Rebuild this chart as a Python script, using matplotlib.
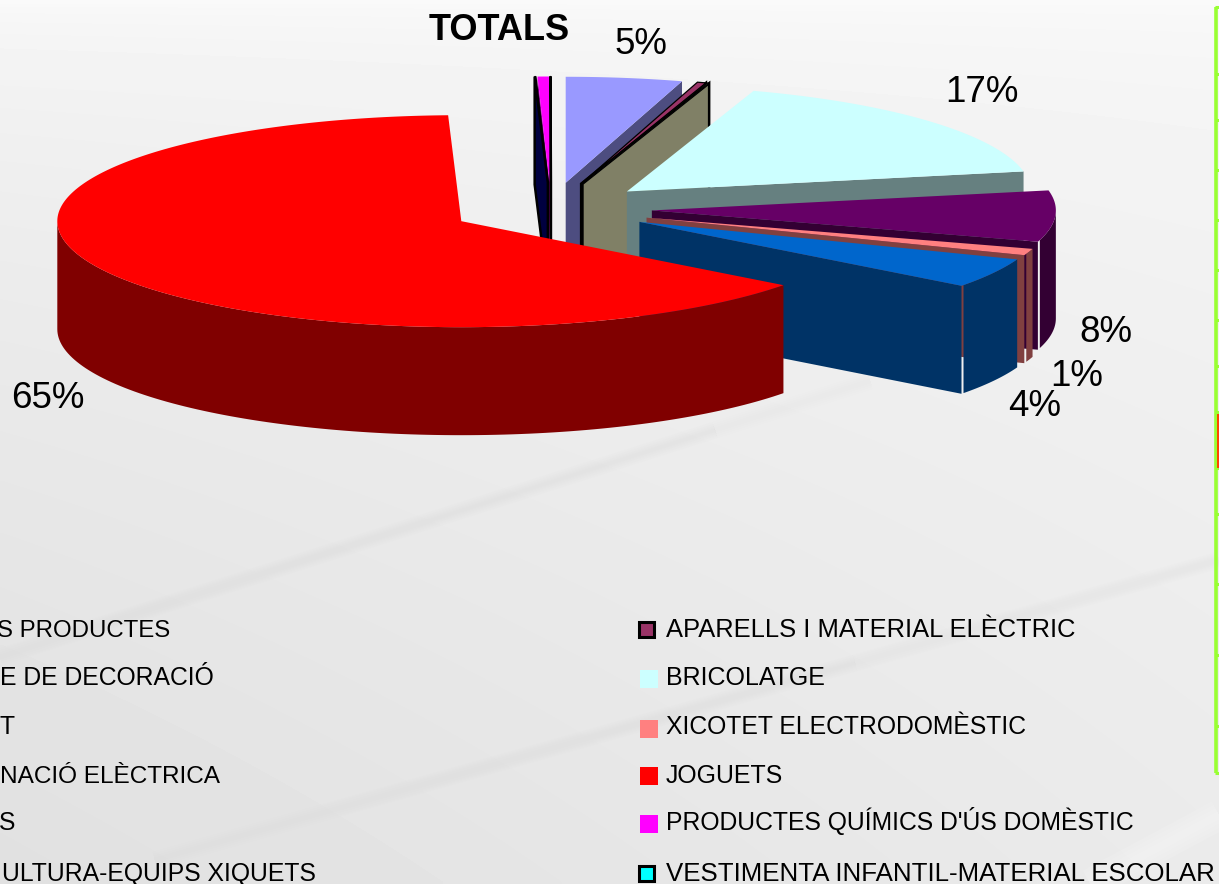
import numpy as np
import matplotlib
matplotlib.use("Agg")
import matplotlib.pyplot as plt
from matplotlib.patches import Polygon, Rectangle

W, H = 1219, 884

# ---- data -------------------------------------------------------------
# Legend texts as far as they can be read (the left column is cut by the picture's edge).
legend_left = ["S PRODUCTES", "E DE DECORACIÓ", "T", "NACIÓ ELÈCTRICA", "S", "ULTURA-EQUIPS XIQUETS"]
legend_right = ["APARELLS I MATERIAL ELÈCTRIC", "BRICOLATGE", "XICOTET ELECTRODOMÈSTIC",
                "JOGUETS", "PRODUCTES QUÍMICS D'ÚS DOMÈSTIC", "VESTIMENTA INFANTIL-MATERIAL ESCOLAR"]
# Slices clockwise from the top.
values = [4.65, 0.35, 0.08, 16.9, 7.8, 1.0, 4.55, 64.2, 0.05, 0.45, 0.0, 0.02]
colors = ["#9999FF", "#993366", "#FFFFCC", "#CCFFFF", "#660066", "#FF8080",
          "#0066CC", "#FF0000", "#000080", "#FF00FF", "#FFFF00", "#00FFFF"]
outlined = [False, True, True, False, False, False, False, False, True, False, False, True]
draw_order = [11, 10, 9, 8, 0, 1, 2, 3, 4, 5, 6, 7]
pct_labels = ["5%", "17%", "8%", "1%", "4%", "65%"]
pct_pos = [(641, 45), (982, 93), (1106, 332), (1077, 377), (1035, 407), (48, 399)]

# ---- layout -----------------------------------------------------------
CX, CY, A, B, DEPTH, EXPLODE = 551, 209, 404, 106, 108, 0.25
GAP_PX = 2.0
LEFT_ENDS = [170, 214, 15, 220, 15, 316]
BASELINES = [637, 685, 734, 783, 830, 881]
MARK_Y = [629.5, 679, 729, 775.5, 824, 873.5]
LEFT_SIZES = [17.3, 17.8, 17.8, 17.6, 17.8, 17.85]
RIGHT_SIZES = [18.4, 18.0, 17.8, 17.9, 17.8, 18.6]
GREEN_TICKS = [7, 74, 120, 170, 220, 270, 320, 366, 412, 468, 514, 584, 655, 726, 773]

plt.rcParams["font.family"] = ["Liberation Sans", "DejaVu Sans"]

fig = plt.figure(figsize=(W / 100, H / 100), dpi=100)
ax = fig.add_axes([0, 0, 1, 1])
ax.set_xlim(0, W)
ax.set_ylim(H, 0)
ax.axis("off")

# ---- background -------------------------------------------------------
yy, xx = np.mgrid[0:1:220j, 0:1:300j]
bg = 0.98 - 0.10 * np.sqrt(yy) * (1 - 0.4 * xx)
ax.imshow(bg, extent=(0, W, H, 0), cmap="gray", vmin=0, vmax=1, aspect="auto",
          interpolation="bilinear", zorder=0)
for (x0, y0, x1, y1, lw, c, al) in [
    (0, 657, 715, 430, 12, "#d0d0d0", 0.05),
    (715, 430, 870, 381, 12, "#d0d0d0", 0.02),
    (155, 860, 855, 663, 12, "#d0d0d0", 0.05),
    (855, 663, 1219, 560, 12, "#d0d0d0", 0.04),
    (1090, 884, 1219, 815, 22, "#ffffff", 0.10),
]:
    for k in (1.0, 0.75, 0.5, 0.25):
        ax.plot([x0, x1], [y0, y1], color=c, lw=lw * k, alpha=al, solid_capstyle="butt", zorder=0.5)

# ---- pie --------------------------------------------------------------
def rim(apex, t):
    t = np.radians(t)
    return np.column_stack([apex[0] + A * np.sin(t), apex[1] - B * np.cos(t)])

def darker(c):
    return tuple(0.5 * v for v in matplotlib.colors.to_rgb(c))

total = sum(values)
edges = np.concatenate([[0], np.cumsum(values) / total * 360])
z = 2
for i in draw_order:
    if values[i] <= 0:
        continue
    t1, t2 = edges[i], edges[i + 1]
    mid = np.radians((t1 + t2) / 2)
    apex = (CX + EXPLODE * A * np.sin(mid), CY - EXPLODE * B * np.cos(mid))
    side = darker(colors[i])
    ec = "black" if outlined[i] else "none"
    lw = 1.8 if outlined[i] else 0
    down = np.array([0, DEPTH])
    ap = np.array(apex)
    # radial faces turned towards the viewer
    for t, visible in ((t2, 0 < t2 < 180), (t1, 180 < t1 < 360)):
        if visible:
            r = rim(apex, np.array([t]))[0]
            ax.add_patch(Polygon([ap, r, r + down, ap + down], closed=True, fc=side,
                                 ec=ec, lw=lw, zorder=z, joinstyle="miter"))
            z += 0.01
    # outer wall
    lo, hi = max(t1, 90), min(t2, 270)
    if hi > lo:
        if t2 < 270:
            hi -= np.degrees(GAP_PX / max(A * abs(np.cos(np.radians(t2))), 1))
        ts = np.linspace(lo, hi, 120)
        upper = rim(apex, ts)
        lower = upper + down
        ax.add_patch(Polygon(np.vstack([upper, lower[::-1]]), closed=True, fc=side,
                             ec="none", zorder=z))
        z += 0.01
    # top surface
    ts = np.linspace(t1, t2, max(2, int((t2 - t1) * 2) + 2))
    ax.add_patch(Polygon(np.vstack([[ap], rim(apex, ts)]), closed=True, fc=colors[i],
                         ec=ec if outlined[i] else "none", lw=lw * 0.5, zorder=z))
    z += 0.01

# ---- texts ------------------------------------------------------------
ax.text(499.5, 31, "TOTALS", fontsize=26, fontweight="bold", ha="center", va="center",
        color="black", zorder=20)
for s, (x, y) in zip(pct_labels, pct_pos):
    ax.text(x, y, s, fontsize=26.5, ha="center", va="center", color="black", zorder=20)

# ---- legend -----------------------------------------------------------
LX, MX, MS = 666, 640, 18
legend_right_colors = [colors[1], colors[3], colors[5], colors[7], colors[9], colors[11]]
legend_right_outline = [True, False, False, False, False, True]
for row in range(6):
    ax.text(LEFT_ENDS[row], BASELINES[row], legend_left[row], fontsize=LEFT_SIZES[row],
            ha="right", va="baseline", color="black", zorder=20)
    ax.text(LX, BASELINES[row], legend_right[row], fontsize=RIGHT_SIZES[row],
            ha="left", va="baseline", color="black", zorder=20)
    if legend_right_outline[row]:
        ax.add_patch(Rectangle((MX - 1, MARK_Y[row] - 7.5), 15, 15, fc=legend_right_colors[row],
                               ec="black", lw=2.2, zorder=20))
    else:
        ax.add_patch(Rectangle((MX, MARK_Y[row] - MS / 2), MS, MS, fc=legend_right_colors[row],
                               ec="none", zorder=20))

# ---- green frame at the right edge ------------------------------------
ax.plot([1215.5, 1215.5], [GREEN_TICKS[0], GREEN_TICKS[-1]], color="#99FF33", lw=2.6,
        solid_capstyle="butt", zorder=15)
for t in GREEN_TICKS:
    ax.plot([1215, 1219], [t, t], color="#99FF33", lw=2.2, solid_capstyle="butt", zorder=15)
ax.add_patch(Rectangle((1217, 414), 3, 54, fc="#FF4500", ec="none", zorder=16))

fig.savefig("out.png", dpi=100)
